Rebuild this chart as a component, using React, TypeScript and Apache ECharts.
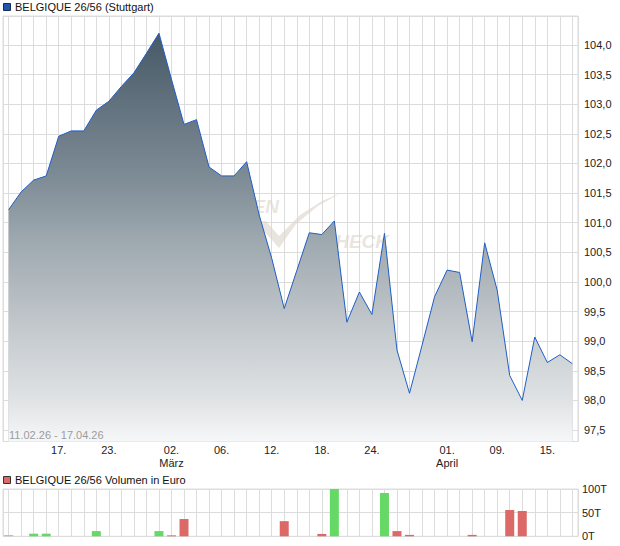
import React, { useEffect, useRef } from "react";
import * as echarts from "echarts";

const dates = [
  "11.02.", "12.02.", "13.02.", "16.02.", "17.02.", "18.02.", "19.02.", "20.02.", "23.02.", "24.02.",
  "25.02.", "26.02.", "27.02.", "02.03.", "03.03.", "04.03.", "05.03.", "06.03.", "09.03.", "10.03.",
  "11.03.", "12.03.", "13.03.", "16.03.", "17.03.", "18.03.", "19.03.", "20.03.", "23.03.", "24.03.",
  "25.03.", "26.03.", "27.03.", "30.03.", "31.03.", "01.04.", "02.04.", "07.04.", "08.04.", "09.04.",
  "10.04.", "13.04.", "14.04.", "15.04.", "16.04.", "17.04.",
];

const prices = [
  101.22, 101.52, 101.72, 101.79, 102.46, 102.55, 102.55, 102.9, 103.05, 103.3,
  103.53, 103.86, 104.2, 103.42, 102.66, 102.74, 101.94, 101.79, 101.79, 102.03,
  101.13, 100.4, 99.55, 100.19, 100.83, 100.8, 101.03, 99.32, 99.83, 99.45,
  100.82, 98.85, 98.12, 98.93, 99.75, 100.2, 100.16, 98.99, 100.66, 99.86,
  98.42, 98.0, 99.07, 98.64, 98.77, 98.62,
];

const volumes = [
  3000, 0, 5500, 5500, 0, 0, 0, 11000, 0, 0,
  0, 0, 11000, 2000, 36500, 0, 0, 0, 0, 0,
  0, 0, 32000, 0, 0, 5000, 100000, 0, 0, 0,
  91500, 11000, 3000, 0, 0, 0, 0, 3000, 0, 0,
  55500, 53500, 0, 0, 0, 0,
];

const xTickDates = ["17.02.", "23.02.", "02.03.", "06.03.", "12.03.", "18.03.", "24.03.", "01.04.", "09.04.", "15.04."];
const monthStartDates = ["02.03.", "01.04."];
const monthNames = ["März", "April"];

const priceTitle = "BELGIQUE 26/56 (Stuttgart)";
const volumeTitle = "BELGIQUE 26/56 Volumen in Euro";
const rangeText = "11.02.26 - 17.04.26";

const FONT = "'Liberation Sans', Arial, Helvetica, sans-serif";
const GRID_COLOR = "#dcdcdc";

function barColor(i: number): string {
  if (i === 0) return "#bdbdbd";
  return prices[i] >= prices[i - 1] ? "#66d866" : "#dc6868";
}

export default function App() {
  const ref = useRef<HTMLDivElement>(null);

  useEffect(() => {
    if (!ref.current) return;
    const chart = echarts.init(ref.current, undefined, { renderer: "svg" });

    const xLabel = (v: number) => {
      const i = Math.round(v);
      if (Math.abs(v - i) > 1e-6) return "";
      const d = dates[i];
      if (!d || xTickDates.indexOf(d) < 0) return "";
      const mi = monthStartDates.indexOf(d);
      return d.slice(0, 3) + (mi >= 0 ? "\n" + monthNames[mi] : "");
    };

    const yLabel = (v: number) => {
      const k = Math.round(v * 2);
      if (Math.abs(v * 2 - k) > 1e-6) return "";
      return (k / 2).toFixed(1).replace(".", ",");
    };

    const option: any = {
      animation: false,
      textStyle: { fontFamily: FONT },
      grid: [
        { left: 3, right: 42, top: 16, height: 425.5, show: true, borderColor: GRID_COLOR, borderWidth: 1, backgroundColor: "transparent" },
        { left: 3, right: 42, top: 489, height: 47.3, show: true, borderColor: GRID_COLOR, borderWidth: 1, backgroundColor: "transparent" },
      ],
      xAxis: [
        {
          type: "value",
          gridIndex: 0,
          min: -0.45,
          max: 45.45,
          minInterval: 1,
          maxInterval: 1,
          axisLine: { show: false },
          axisTick: { show: false },
          splitLine: { show: true, lineStyle: { color: GRID_COLOR, width: 1 } },
          axisLabel: {
            formatter: xLabel,
            fontSize: 11,
            color: "#222",
            margin: 2,
            lineHeight: 13,
            fontFamily: FONT,
          },
        },
        {
          type: "value",
          gridIndex: 1,
          min: -0.45,
          max: 45.45,
          minInterval: 1,
          maxInterval: 1,
          axisLine: { show: false },
          axisTick: { show: false },
          axisLabel: { show: false },
          splitLine: { show: true, lineStyle: { color: GRID_COLOR, width: 1 } },
        },
      ],
      yAxis: [
        {
          type: "value",
          gridIndex: 0,
          position: "right",
          min: 97.306,
          max: 104.49,
          minInterval: 0.5,
          maxInterval: 0.5,
          axisLine: { show: false },
          axisTick: { show: false },
          splitLine: { show: true, lineStyle: { color: GRID_COLOR, width: 1 } },
          axisLabel: { formatter: yLabel, fontSize: 11, color: "#222", margin: 6, fontFamily: FONT },
        },
        {
          type: "value",
          gridIndex: 1,
          position: "right",
          min: 0,
          max: 100000,
          interval: 50000,
          axisLine: { show: false },
          axisTick: { show: false },
          splitLine: { show: true, lineStyle: { color: GRID_COLOR, width: 1 } },
          axisLabel: {
            formatter: (v: number) => Math.round(v / 1000) + "T",
            fontSize: 11,
            color: "#222",
            margin: 4,
            fontFamily: FONT,
          },
        },
      ],
      graphic: [
        // watermark
        {
          type: "polygon",
          z: 1,
          silent: true,
          shape: {
            points: [
              [256, 222], [266, 221], [279, 236], [300, 215], [322, 201], [341, 193], [318, 206], [296, 224], [279, 248],
            ],
          },
          style: { fill: "rgba(222,214,204,0.65)" },
        },
        {
          type: "text",
          z: 1,
          silent: true,
          style: {
            x: 279, y: 206, text: "FINANZEN", align: "right", verticalAlign: "middle",
            font: "italic bold 19px " + FONT, fill: "rgba(222,214,204,0.65)",
          },
        },
        {
          type: "text",
          z: 1,
          silent: true,
          style: {
            x: 389, y: 241, text: "CHECK", align: "right", verticalAlign: "middle",
            font: "italic bold 19px " + FONT, fill: "rgba(222,214,204,0.65)",
          },
        },
        // legends
        {
          type: "rect",
          z: 10,
          shape: { x: 3.5, y: 3.5, width: 7, height: 7 },
          style: { fill: "#2156b0", stroke: "#1b2b4b", lineWidth: 1 },
        },
        {
          type: "text",
          z: 10,
          style: { x: 15, y: 7, text: priceTitle, verticalAlign: "middle", font: "11px " + FONT, fill: "#111" },
        },
        {
          type: "rect",
          z: 10,
          shape: { x: 3.5, y: 476.5, width: 7, height: 7 },
          style: { fill: "#dc6868", stroke: "#333", lineWidth: 1 },
        },
        {
          type: "text",
          z: 10,
          style: { x: 15, y: 480, text: volumeTitle, verticalAlign: "middle", font: "11px " + FONT, fill: "#111" },
        },
        {
          type: "text",
          z: 10,
          style: { x: 9, y: 435, text: rangeText, verticalAlign: "middle", font: "11px " + FONT, fill: "#9c9c9c" },
        },
      ],
      series: [
        {
          type: "line",
          xAxisIndex: 0,
          yAxisIndex: 0,
          z: 2,
          data: prices.map((p, i) => [i, p]),
          showSymbol: false,
          symbol: "none",
          lineStyle: { color: "#1f5ec6", width: 1 },
          areaStyle: {
            origin: "start",
            opacity: 1,
            color: new echarts.graphic.LinearGradient(0, 0, 0, 1, [
              { offset: 0, color: "#475967" },
              { offset: 0.35, color: "#7d8b95" },
              { offset: 0.5, color: "#9ca7ae" },
              { offset: 0.65, color: "#b7bec3" },
              { offset: 0.9, color: "#e0e3e5" },
              { offset: 1, color: "#f6f7f8" },
            ]),
          },
        },
        {
          type: "bar",
          xAxisIndex: 1,
          yAxisIndex: 1,
          barWidth: 9,
          data: volumes.map((v, i) => ({ value: [i, v], itemStyle: { color: barColor(i) } })),
        },
      ],
    };

    chart.setOption(option);
    return () => chart.dispose();
  }, []);

  return (
    <div
      ref={ref}
      style={{ position: "fixed", left: 0, top: 0, width: 620, height: 546, background: "#fff" }}
    />
  );
}
